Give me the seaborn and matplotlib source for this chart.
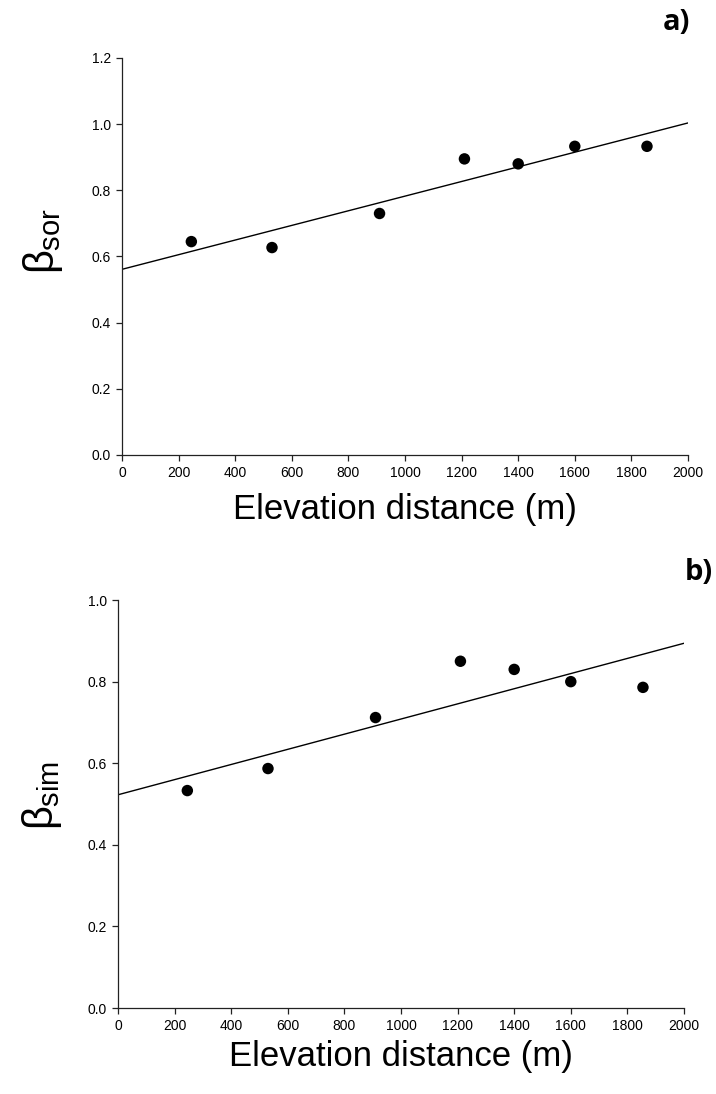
import matplotlib
matplotlib.use("Agg")
import matplotlib.pyplot as plt
import numpy as np
import pandas as pd
import seaborn as sns

# Elevation distance between site pairs (m) and beta-diversity components
elev_dist = [245, 530, 910, 1210, 1400, 1600, 1855]
beta_sor = [0.645, 0.627, 0.730, 0.895, 0.880, 0.933, 0.933]
beta_sim = [0.533, 0.587, 0.712, 0.850, 0.830, 0.800, 0.786]

x_ticks = [0, 200, 400, 600, 800, 1000, 1200, 1400, 1600, 1800, 2000]
sor_ticks = [0.0, 0.2, 0.4, 0.6, 0.8, 1.0, 1.2]
sim_ticks = [0.0, 0.2, 0.4, 0.6, 0.8, 1.0]

df = pd.DataFrame({"elev": elev_dist, "sor": beta_sor, "sim": beta_sim})

sns.set_theme(style="ticks")
plt.rcParams["font.family"] = ["Liberation Sans", "DejaVu Sans"]
plt.rcParams["mathtext.fontset"] = "custom"
plt.rcParams["mathtext.rm"] = "Liberation Sans"
plt.rcParams["mathtext.it"] = "Liberation Sans"
plt.rcParams["text.color"] = "black"
plt.rcParams["axes.labelcolor"] = "black"

fig = plt.figure(figsize=(7.16, 10.94), dpi=100)
ax1 = fig.add_axes([0.1704, 0.5841, 0.7905, 0.3629])
ax2 = fig.add_axes([0.1648, 0.0786, 0.7905, 0.3729])


def draw_panel(ax, col, yticks, ylabel, xpad):
    ax.set_xlim(0, 2000)
    ax.set_ylim(yticks[0], yticks[-1])
    sns.regplot(data=df, x="elev", y=col, ax=ax, ci=None, truncate=False,
                scatter_kws=dict(s=68, color="black", edgecolor="none",
                                 alpha=1.0, zorder=3),
                line_kws=dict(color="black", lw=1.0))
    ax.set_xlim(0, 2000)
    ax.set_ylim(yticks[0], yticks[-1])
    ax.set_xticks(x_ticks)
    ax.set_xticklabels([str(t) for t in x_ticks])
    ax.set_yticks(yticks)
    ax.set_yticklabels([f"{t:.1f}" for t in yticks])
    for side in ("top", "right"):
        ax.spines[side].set_visible(False)
    for side in ("left", "bottom"):
        ax.spines[side].set_color("#222222")
        ax.spines[side].set_linewidth(0.9)
    ax.tick_params(direction="out", length=4, width=0.9, colors="#222222",
                   labelsize=10, labelcolor="black", pad=4)
    ax.set_xlabel("Elevation distance (m)", fontsize=25, labelpad=xpad)
    ax.set_ylabel(ylabel, fontsize=30)


draw_panel(ax1, "sor", sor_ticks, r"$\beta_{\mathrm{sor}}$", 9)
draw_panel(ax2, "sim", sim_ticks, r"$\beta_{\mathrm{sim}}$", 5)
ax1.yaxis.set_label_coords(-0.10, 0.54)
ax2.yaxis.set_label_coords(-0.095, 0.52)

fig.text(690 / 716, 1 - 22 / 1094, "a)", ha="right", va="center",
         fontsize=21, fontweight="bold", family=["Open Sans", "DejaVu Sans"])
fig.text(713 / 716, 1 - 572 / 1094, "b)", ha="right", va="center",
         fontsize=21, fontweight="bold", family=["Open Sans", "DejaVu Sans"])

fig.savefig("out.png", dpi=100)
